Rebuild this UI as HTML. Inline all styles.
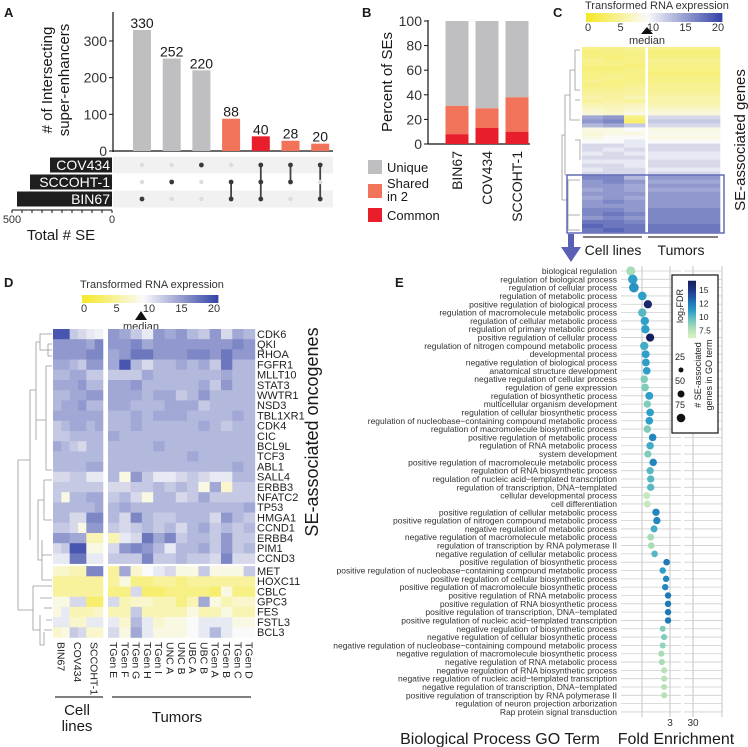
<!DOCTYPE html>
<html><head><meta charset="utf-8">
<style>
html,body{margin:0;padding:0;background:#fff;}
svg{display:block;font-family:"Liberation Sans",Arial,sans-serif;}
</style></head>
<body>
<svg id="fig" width="748" height="747" viewBox="0 0 748 747" xmlns="http://www.w3.org/2000/svg"></svg>
<script>
// ---------- Panel A data ----------
const aCounts = [330, 252, 220, 88, 40, 28, 20];
const aKinds = ["unique","unique","unique","shared","common","shared","shared"];
const aSets = ["COV434", "SCCOHT-1", "BIN67"];
const aSetTotals = [310, 410, 475];
const aMembership = [[2],[1],[0],[1,2],[0,1,2],[0,1],[0,2]];
const aTicks = [0, 100, 200, 300];
// ---------- Panel B data ----------
const bLines = ["BIN67", "COV434", "SCCOHT-1"];
const bCommon = [8, 13, 10];
const bShared = [23, 16, 28];
const bTicks = [0, 20, 40, 60, 80, 100];
// ---------- Panel C data (row bands: 3 cell lines, tumors) ----------
const cRows = [
[4,4,4.5,4],[3.5,4,4,3.5],[4,3.5,4,4],[4.5,4,4,4.5],[4,4,3.5,4],[3.5,3.5,4,4],[4,4,4,3.5],
[4,4.5,4,4],[4.5,4,4,4],[4,4,4.5,4.5],[4.5,4.5,5,4.5],[5,5,5,5],[5.5,5,6,5.5],[5,5.5,5,5.5],
[6,6,6.5,6],[7,6.5,7,7],[7.5,7,8,7.5],[14,15,4,11],[15,16,3,12],[13,14,12,11],
[8,8,9,8],[7.5,8,8,8.5],[8,9,9,8],[9,9,10,9],
[11,11,10,11],[11,10,11,11],[10,11,10,10],[11,11,11,10],[10,10,10,11],[11,11,10,11],[10,11,11,10],[11,11,11,11],
[16,16,13,15],[15,16,15,14],[15,15,14,15],[14,15,14,14],[15,15,15,15],[14,15,14,15],[15,16,15,15],
[15,15,15,15],[16,16,15,16],[16,17,16,16],[15,16,15,16],[17,17,16,16],[18,17,17,17],[17,18,17,17]
];
const cTicks = [0, 5, 10, 15, 20];
// ---------- Panel D data ----------
const dGenes = ["CDK6","QKI","RHOA","FGFR1","MLLT10","STAT3","WWTR1","NSD3","TBL1XR1","CDK4","CIC","BCL9L","TCF3","ABL1","SALL4","ERBB3","NFATC2","TP53","HMGA1","CCND1","ERBB4","PIM1","CCND3","MET","HOXC11","CBLC","GPC3","FES","FSTL3","BCL3"];
const dCellLines = ["BIN67","COV434","SCCOHT-1"];
const dTumors = ["TGen E","TGen F","TGen G","TGen H","TGen I","UNC A","UNC B","UBC A","UBC B","TGen A","TGen B","TGen C","TGen D"];
const dCellVals = [
[19,19,12,11,10,9.5],[15,15,15,15,14,16],[15,15,15,15,16,16],[14,14,13,12,15,15],[13,13,14,14,12,12],
[14,14,14,15,13,13],[13,13,14,14,15,15],[13,14,14,15,13,13],[14,14,14,14,14,14],[12,13,14,14,13,14],
[12,12,13,13,13,13],[14,13,12,11,13,13],[13,13,13,13,13,13],[13,13,13,13,14,14],[11,11,12,12,10,10],
[12,12,12,12,12,12],[12,8,13,13,14,14],[13,13,13,13,13,14],[13,13,11,11,16,16],[12,12,11,8,15,15],
[15,15,14,14,6,6],[11,12,19,19,8,8],[10,10,17,17,10,10],[7,7,6,6,16,16],[5,5,5,5,5,5],
[5,5,5,5,5,5],[8,8,11,11,3,3],[8,10,6,6,6,7],[10,10,7,7,10,10],[7,8,12,11,7,7]
];
const dTumorVals = [
[15,14,12,10,15,14,15,13,12,15,11,14,13],[15,15,16,14,15,15,15,15,15,15,15,16,15],
[14,15,17,17,15,15,15,16,16,15,17,15,15],[14,19,13,11,13,13,14,13,14,12,17,13,13],
[12,12,12,14,13,13,13,13,13,13,14,13,13],[14,14,15,13,13,13,13,13,14,12,15,13,13],
[14,14,14,13,14,14,12,13,15,13,13,13,13],[14,14,13,13,13,14,14,14,12,13,13,13,13],
[13,13,14,13,14,14,14,13,13,13,13,14,13],[13,13,14,13,13,13,13,13,14,13,12,13,13],
[14,13,13,13,13,13,13,13,13,13,13,13,13],[13,13,13,13,14,13,13,13,13,13,13,13,13],
[13,13,13,13,13,13,13,14,13,13,13,13,13],[13,13,13,13,13,13,13,13,13,13,13,14,13],
[13,8,15,12,10,10,11,12,11,10,10,13,13],[11,11,12,12,13,12,13,12,8,14,7,12,12],
[12,13,11,8,13,13,11,12,14,12,12,12,12],[13,14,13,13,13,13,13,13,13,13,13,13,14],
[13,11,16,13,12,12,13,13,13,11,15,13,12],[12,11,12,13,12,13,11,13,14,12,13,12,13],
[6,10,11,17,14,16,12,13,13,12,15,12,12],[11,15,16,15,13,10,13,13,14,12,15,12,13],
[12,12,12,16,12,12,13,12,12,11,16,11,11],[5,14,7,9,10,11,8,8,12,8,8,8,12],
[5,8,4,4,5,5,4,5,5,5,5,5,5],[4,4,11,3,3,4,4,4,4,3,8,4,4],
[11,6,7,7,6,6,4,6,14,8,6,7,7],[6,6,12,6,6,6,6,8,6,6,8,6,6],
[10,7,13,10,7,8,8,9,10,10,10,8,8],[11,8,14,10,8,8,8,9,10,13,10,9,9]
];
// ---------- Panel E data ----------
const eTerms = ["biological regulation","regulation of biological process","regulation of cellular process","regulation of metabolic process","positive regulation of biological process","regulation of macromolecule metabolic process","regulation of cellular metabolic process","regulation of primary metabolic process","positive regulation of cellular process","regulation of nitrogen compound metabolic process","developmental process","negative regulation of biological process","anatomical structure development","negative regulation of cellular process","regulation of gene expression","regulation of biosynthetic process","multicellular organism development","regulation of cellular biosynthetic process","regulation of nucleobase\u2212containing compound metabolic process","regulation of macromolecule biosynthetic process","positive regulation of metabolic process","regulation of RNA metabolic process","system development","positive regulation of macromolecule metabolic process","regulation of RNA biosynthetic process","regulation of nucleic acid\u2212templated transcription","regulation of transcription, DNA\u2212templated","cellular developmental process","cell differentiation","positive regulation of cellular metabolic process","positive regulation of nitrogen compound metabolic process","negative regulation of metabolic process","negative regulation of macromolecule metabolic process","regulation of transcription by RNA polymerase II","negative regulation of cellular metabolic process","positive regulation of biosynthetic process","positive regulation of nucleobase\u2212containing compound metabolic process","positive regulation of cellular biosynthetic process","positive regulation of macromolecule biosynthetic process","positive regulation of RNA metabolic process","positive regulation of RNA biosynthetic process","positive regulation of transcription, DNA\u2212templated","positive regulation of nucleic acid\u2212templated transcription","negative regulation of biosynthetic process","negative regulation of cellular biosynthetic process","negative regulation of nucleobase\u2212containing compound metabolic process","negative regulation of macromolecule biosynthetic process","negative regulation of RNA metabolic process","negative regulation of RNA biosynthetic process","negative regulation of nucleic acid\u2212templated transcription","negative regulation of transcription, DNA\u2212templated","positive regulation of transcription by RNA polymerase II","regulation of neuron projection arborization","Rap protein signal transduction"];
const eFold = [1.60,1.67,1.71,2.01,2.21,2.01,2.10,2.12,2.29,2.08,2.13,2.14,2.17,2.08,2.11,2.26,2.19,2.29,2.26,2.19,2.38,2.29,2.21,2.40,2.29,2.31,2.31,2.17,2.19,2.50,2.53,2.43,2.31,2.33,2.45,2.88,2.74,2.86,2.83,2.93,2.93,2.93,2.93,2.74,2.79,2.74,2.69,2.71,2.79,2.79,2.79,2.79,32,37.6];
const eFDR = [8,11,11.5,11,16,10,11,11,16.5,10.5,11,11,11,9,9,11,9,11,11,9,12,10.5,9,12,10,10,10,7,7,12,12,10.5,8,8,10,12.5,11,12,12,12.5,12.5,12.5,12.5,9,9,8.5,8,8,7.5,7.5,7.5,7.5,6.5,6.5];
const eCount = [85,90,95,75,70,72,72,72,68,70,65,62,60,58,60,62,55,60,60,58,58,58,52,56,55,55,55,50,50,55,55,50,48,45,45,45,42,42,42,42,42,42,42,38,38,38,38,38,38,38,38,38,2,2];
const eFdrTicks = [7.5, 10, 12.5, 15];
const eFdrTickLabels = ["7.5","10","12","15"];
const eSizeLegend = [25, 50, 75];

const NS = "http://www.w3.org/2000/svg";
const svg = document.getElementById("fig");
function add(tag, attrs, parent) {
  const el = document.createElementNS(NS, tag);
  for (const k in attrs) el.setAttribute(k, attrs[k]);
  (parent || svg).appendChild(el);
  return el;
}
function txt(x, y, s, size, anchor, parent, extra) {
  const el = add("text", Object.assign({x: x, y: y, "font-size": size, "text-anchor": anchor || "start", fill: "#1a1a1a"}, extra || {}), parent);
  el.textContent = s;
  return el;
}
function lerp(a, b, t) { return a + (b - a) * t; }
function heat(v) {
  let c;
  if (v <= 9) { const t = Math.max(0, v) / 9; c = [lerp(245,250,t), lerp(232,250,t), lerp(40,250,t)]; }
  else { const t = Math.min(1, (v - 9) / 11); c = [lerp(250,55,t), lerp(250,70,t), lerp(250,168,t)]; }
  return "rgb(" + c.map(Math.round).join(",") + ")";
}
const fdrStops = [[6.5,[212,238,192]],[8,[168,220,182]],[9.5,[108,196,190]],[11,[46,159,200]],[12.5,[29,122,182]],[14.5,[36,63,147]],[16.5,[20,31,94]]];
function fdrColor(v) {
  for (let i = 0; i < fdrStops.length - 1; i++) {
    const a = fdrStops[i], b = fdrStops[i+1];
    if (v <= b[0]) { const t = Math.max(0, (v - a[0]) / (b[0] - a[0])); return "rgb(" + [0,1,2].map(k => Math.round(lerp(a[1][k], b[1][k], t))).join(",") + ")"; }
  }
  return "rgb(20,31,94)";
}

// ================= PANEL A =================
const gA = add("g", {});


let t = txt(4, 17, "A", 13, "start", gA, {"font-weight": "bold"});


const aY = v => 151 - v * 0.3667;
const aX = i => 142 + i * 29.7;
let l = add("line", {x1: 113, y1: 12, x2: 113, y2: 152, stroke: "#111", "stroke-width": 1.2}, gA);


l = add("line", {x1: 113, y1: 151, x2: 333, y2: 151, stroke: "#111", "stroke-width": 1.2}, gA);


aTicks.forEach(v => {
  const tk = add("line", {x1: 109, y1: aY(v), x2: 113, y2: aY(v), stroke: "#111"}, gA);
  
  
  const lb = txt(107, aY(v) + 5, String(v), 14, "end", gA, {fill: "#333"});
  
  
});
const aCol = {unique: "#bfbfc1", shared: "#f17359", common: "#e81f2a"};
aCounts.forEach((v, i) => {
  const r = add("rect", {x: aX(i) - 9, y: aY(v), width: 18, height: 151 - aY(v), fill: aCol[aKinds[i]]}, gA);
  
  
  const lb = txt(aX(i), aY(v) - 2, String(v), 14, "middle", gA);
  
  
});
t = txt(0, 0, "# of Intersecting", 15, "middle", gA, {transform: "translate(52,80) rotate(-90)"});


t = txt(0, 0, "super-enhancers", 15, "middle", gA, {transform: "translate(69,80) rotate(-90)"});


const rowY = i => 165 + i * 17;
[0, 2].forEach(i => {
  const s = add("rect", {x: 113, y: rowY(i) - 8.5, width: 220, height: 17, fill: "#f1f1f1"}, gA);
  
  
});
const aTotX = v => 112 - v * 0.2;
aSets.forEach((name, i) => {
  const b = add("rect", {x: aTotX(aSetTotals[i]), y: rowY(i) - 7.5, width: 112 - aTotX(aSetTotals[i]), height: 15, fill: "#1e1e1e"}, gA);
  
  
  const lb = txt(110, rowY(i) + 5, name, 14, "end", gA, {fill: "#fff"});
  
  
});
aMembership.forEach((mem, j) => {
  if (mem.length > 1) {
    const ys = mem.map(rowY);
    const ln = add("line", {x1: aX(j), y1: Math.min(...ys), x2: aX(j), y2: Math.max(...ys), stroke: "#444", "stroke-width": 1.8}, gA);
    
    
  }
  aSets.forEach((s, i) => {
    const on = mem.indexOf(i) >= 0;
    const d = add("circle", {cx: aX(j), cy: rowY(i), r: on ? 2.4 : 2.2, fill: on ? "#3a3a3a" : "#dcdcdc"}, gA);
    
    
  });
});
l = add("line", {x1: 12, y1: 210, x2: 112, y2: 210, stroke: "#111"}, gA);


for (let v = 0; v <= 500; v += 50) {
  const tk = add("line", {x1: aTotX(v), y1: 210, x2: aTotX(v), y2: 213, stroke: "#111"}, gA);
  
  
}
t = txt(12, 223, "500", 11, "middle", gA, {fill: "#333"});


t = txt(112, 223, "0", 11, "middle", gA, {fill: "#333"});


t = txt(61, 240, "Total # SE", 15, "middle", gA);



// ================= PANEL B =================
const gB = add("g", {});


t = txt(362, 17, "B", 13, "start", gB, {"font-weight": "bold"});


const bY = v => 144 - v * 1.23;
const bX = i => 457 + i * 30;
l = add("line", {x1: 428, y1: 20, x2: 428, y2: 144, stroke: "#111", "stroke-width": 1.2}, gB);


l = add("line", {x1: 428, y1: 144, x2: 530, y2: 144, stroke: "#111", "stroke-width": 1.2}, gB);


bTicks.forEach(v => {
  const tk = add("line", {x1: 424, y1: bY(v), x2: 428, y2: bY(v), stroke: "#111"}, gB);
  
  
  const lb = txt(422, bY(v) + 5, String(v), 14, "end", gB, {fill: "#333"});
  
  
});
bLines.forEach((name, i) => {
  const c = bCommon[i], s = bShared[i];
  let r = add("rect", {x: bX(i) - 11.5, y: bY(100), width: 23, height: bY(c + s) - bY(100), fill: "#bfbfc1"}, gB);
  
  
  r = add("rect", {x: bX(i) - 11.5, y: bY(c + s), width: 23, height: bY(c) - bY(c + s), fill: "#f17359"}, gB);
  
  
  r = add("rect", {x: bX(i) - 11.5, y: bY(c), width: 23, height: bY(0) - bY(c), fill: "#e81f2a"}, gB);
  
  
  const lb = txt(0, 0, name, 14, "end", gB, {transform: "translate(" + (bX(i) + 5) + ",151) rotate(-90)"});
  
  
});
t = txt(0, 0, "Percent of SEs", 15, "middle", gB, {transform: "translate(392,82) rotate(-90)"});


[["Unique", "#bfbfc1", 160, 172], ["Shared", "#f17359", 184, 188], ["Common", "#e81f2a", 208, 220]].forEach(e => {
  const sw = add("rect", {x: 368, y: e[2], width: 14, height: 14, fill: e[1]}, gB);
  
  
  const lb = txt(387, e[3], e[0], 13, "start", gB);
  
  
});
t = txt(387, 201, "in 2", 13, "start", gB);



// ================= colorbar helper =================
function colorbar(g, x0, x1, y0, y1, ticks, namePrefix) {
  const n = 60, w = (x1 - x0) / n;
  for (let k = 0; k < n; k++) {
    const r = add("rect", {x: x0 + k * w, y: y0, width: w + 0.4, height: y1 - y0, fill: heat(k / (n - 1) * 20)}, g);
    
    
  }
  ticks.forEach(v => {
    const lb = txt(x0 + 2 + (x1 - x0 - 6) * v / 20, y1 + 9, String(v), 11, "middle", g, {fill: "#333"});
    
    
  });
}

// ================= PANEL C =================
const gC = add("g", {});


t = txt(553, 17, "C", 13, "start", gC, {"font-weight": "bold"});


t = txt(585, 9, "Transformed RNA expression", 11, "start", gC, {fill: "#333"});


colorbar(gC, 586, 722, 13, 22, cTicks, "c");
t = add("polygon", {points: "641,34 653,34 647,27", fill: "#111"}, gC);


t = txt(647, 44, "median", 11, "middle", gC, {fill: "#333"});


const cTop = 47, cH = (232 - 47) / cRows.length;
cRows.forEach((row, i) => {
  const xs = [[582, 603], [603, 624], [624, 645], [648, 720]];
  row.forEach((v, j) => {
    const r = add("rect", {x: xs[j][0], y: cTop + i * cH, width: xs[j][1] - xs[j][0] + 0.3, height: cH + 0.3, fill: heat(v)}, gC);
    
    
  });
});
t = add("path", {d: "M580,50 L575,50 L575,90 L580,90 M575,70 L570,70 L570,120 L580,120 M570,95 L565,95 L565,175 M565,135 L562,135 L562,200 M565,175 L580,175 M562,200 L568,200 L568,180 L580,180 M568,215 L580,215 M568,200 L568,230 L580,230 M575,100 L580,100 M575,140 L580,140 L580,160", fill: "none", stroke: "#999", "stroke-width": 0.8}, gC);


t = add("rect", {x: 567, y: 175, width: 157, height: 58, fill: "none", stroke: "#5a60b4", "stroke-width": 1.4}, gC);


t = add("line", {x1: 583, y1: 237, x2: 642, y2: 237, stroke: "#555", "stroke-width": 1.5}, gC);


t = add("line", {x1: 648, y1: 237, x2: 718, y2: 237, stroke: "#555", "stroke-width": 1.5}, gC);


t = txt(613, 255, "Cell lines", 14, "middle", gC);


t = txt(681, 255, "Tumors", 14, "middle", gC);


t = txt(0, 0, "SE-associated genes", 15, "middle", gC, {transform: "translate(745,140) rotate(-90)"});


t = add("path", {d: "M568,234 L574,234 L574,247 L581,247 L571,262 L561,247 L568,247 Z", fill: "#5a60b4"}, gC);



// ================= PANEL D =================
const gD = add("g", {});


t = txt(4, 287, "D", 13, "start", gD, {"font-weight": "bold"});


t = txt(80, 288, "Transformed RNA expression", 11, "start", gD, {fill: "#333"});


colorbar(gD, 82, 218, 295, 303, cTicks, "d");
t = add("polygon", {points: "135,320 147,320 141,311", fill: "#111"}, gD);


t = txt(141, 330, "median", 11, "middle", gD, {fill: "#333"});


const dRowH = 10.2;
const dRowY = i => 329 + i * dRowH + (i >= 23 ? 2.5 : 0);
const dClX = j => 53 + j * 8.33;
const dTuX = j => 108 + j * 11.3;
dGenes.forEach((g, i) => {
  dCellVals[i].forEach((v, j) => {
    const r = add("rect", {x: dClX(j), y: dRowY(i), width: 8.63, height: dRowH + 0.3, fill: heat(v)}, gD);
    
    
  });
  dTumorVals[i].forEach((v, j) => {
    const r = add("rect", {x: dTuX(j), y: dRowY(i), width: 11.6, height: dRowH + 0.3, fill: heat(v)}, gD);
    
    
  });
  const lb = txt(257, dRowY(i) + 8.8, g, 11, "start", gD, {fill: "#222"});
  
  
});
dCellLines.forEach((s, j) => {
  const lb = txt(0, 0, s, 10.5, "start", gD, {fill: "#222", transform: "translate(" + (dClX(j * 2 + 1) - 4) + ",642) rotate(90)"});
  
  
});
dTumors.forEach((s, j) => {
  const lb = txt(0, 0, s, 10.5, "start", gD, {fill: "#222", transform: "translate(" + (dTuX(j) + 2) + ",642) rotate(90)"});
  
  
});
t = add("path", {d: "M52,334 L40,334 L40,350 L52,350 M52,344 L48,344 L48,356 L52,356 M40,342 L36,342 L36,440 M52,366 L46,366 L46,470 L52,470 M46,420 L36,420 M36,390 L30,390 L30,540 M52,480 L44,480 L44,520 L52,520 M44,500 L38,500 L38,560 L42,560 M42,540 L42,580 L52,580 M42,555 L52,555 M30,460 L18,460 L18,610 L33,610 M33,586 L33,630 L40,630 M33,586 L52,586 M40,598 L52,598 M40,615 L40,645 L44,645 M44,608 L52,608 M44,630 L52,630 M44,645 L44,632 M46,620 L52,620",
  fill: "none", stroke: "#999", "stroke-width": 0.8}, gD);


t = add("line", {x1: 55, y1: 697, x2: 103, y2: 697, stroke: "#333", "stroke-width": 1.3}, gD);


t = add("line", {x1: 112, y1: 697, x2: 251, y2: 697, stroke: "#333", "stroke-width": 1.3}, gD);


t = txt(77, 715, "Cell", 15, "middle", gD);


t = txt(77, 731, "lines", 15, "middle", gD);


t = txt(177, 722, "Tumors", 15, "middle", gD);


t = txt(0, 0, "SE-associated oncogenes", 18, "middle", gD, {transform: "translate(318,432) rotate(-90)"});



// ================= PANEL E =================
const gE = add("g", {});


t = txt(395, 287, "E", 13, "start", gE, {"font-weight": "bold"});


const eY = i => 271 + i * 8.32;
const eX = f => f < 10 ? 642 + (f - 2) * 28 : 693 + (f - 30) * 2.9;
eTerms.forEach((s, i) => {
  let g1 = add("line", {x1: 621, y1: eY(i), x2: 681, y2: eY(i), stroke: "#cfcfcf", "stroke-width": 0.8}, gE);
  
  
  g1 = add("line", {x1: 684, y1: eY(i), x2: 722, y2: eY(i), stroke: "#cfcfcf", "stroke-width": 0.8}, gE);
  
  
});
[642, 670, 693, 722].forEach(x => {
  const g1 = add("line", {x1: x, y1: 266, x2: x, y2: 717, stroke: "#cfcfcf", "stroke-width": 1.2}, gE);
  
  
});
eTerms.forEach((s, i) => {
  const lb = txt(617, eY(i) + 3, s, 8.5, "end", gE, {fill: "#333"});
  
  
  const d = add("circle", {cx: eX(eFold[i]), cy: eY(i), r: Math.sqrt(eCount[i] / 75) * 4.3, fill: fdrColor(eFDR[i])}, gE);
  
  
});
t = txt(670, 726, "3", 10, "middle", gE, {fill: "#333"});


t = txt(693, 726, "30", 10, "middle", gE, {fill: "#333"});


t = txt(500, 744, "Biological Process GO Term", 16, "middle", gE);


t = txt(676, 744, "Fold Enrichment", 16, "middle", gE);


const gL = add("g", {}, gE);


t = add("rect", {x: 672, y: 275, width: 46, height: 158, fill: "#fff", stroke: "#111", "stroke-width": 1.2}, gL);


const fY = v => 330.7 - (v - 7.5) * 5.43;
for (let k = 0; k < 40; k++) {
  const v0 = 6.2 + k * (16.7 - 6.2) / 40;
  const r = add("rect", {x: 688, y: fY(v0 + (16.7 - 6.2) / 40), width: 8, height: (16.7 - 6.2) / 40 * 5.43 + 0.3, fill: fdrColor(v0)}, gL);
  
  
}
eFdrTicks.forEach((v, k) => {
  const lb = txt(699, fY(v) + 3, eFdrTickLabels[k], 8.5, "start", gL, {fill: "#222"});
  
  
});
t = txt(0, 0, "log\u2082FDR", 9, "middle", gL, {transform: "translate(683,306) rotate(-90)", fill: "#222"});


eSizeLegend.forEach((n, k) => {
  const yy = 360 + k * 24;
  const lb = txt(680, yy, String(n), 9, "middle", gL, {fill: "#222"});
  
  
  const c = add("circle", {cx: 681, cy: yy + 10, r: Math.sqrt(n / 75) * 4.3, fill: "#111"}, gL);
  
  
});
t = txt(0, 0, "# SE-associated", 9, "middle", gL, {transform: "translate(701,375) rotate(-90)", fill: "#222"});


t = txt(0, 0, "genes in GO term", 9, "middle", gL, {transform: "translate(712,375) rotate(-90)", fill: "#222"});


</script>
</body></html>
